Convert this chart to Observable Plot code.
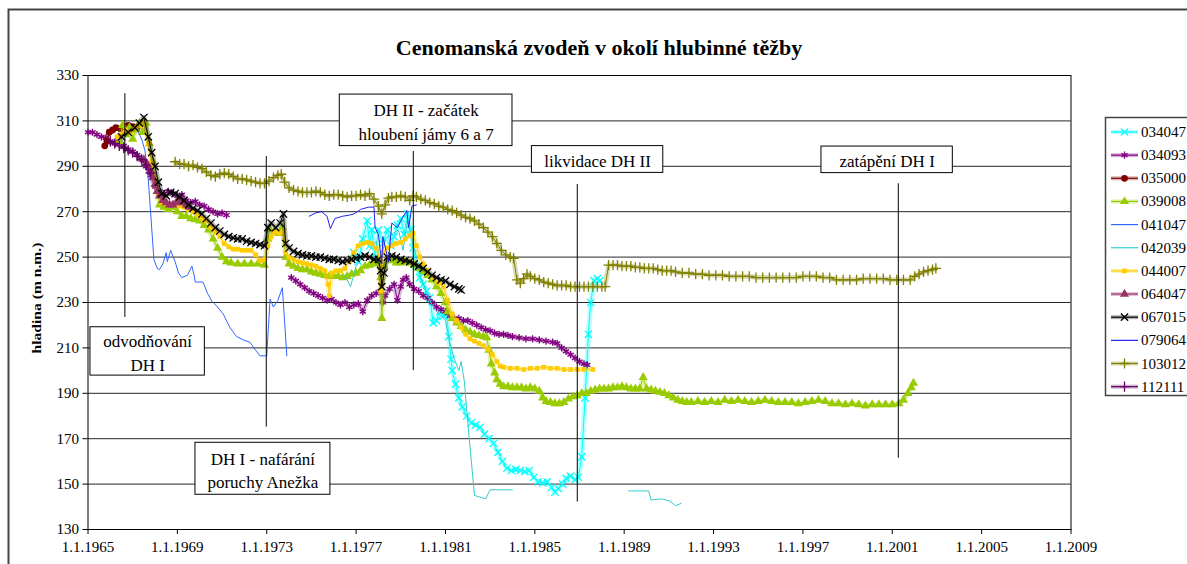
<!DOCTYPE html>
<html><head><meta charset="utf-8">
<script src="https://cdn.jsdelivr.net/npm/d3@7"></script>
<script src="https://cdn.jsdelivr.net/npm/@observablehq/plot@0.6"></script>
<style>
body{margin:0;background:#fff}
#chart{position:relative;width:1187px;height:564px;overflow:hidden;background:#fff}
#chart svg text{font-family:"Liberation Serif","Times New Roman",serif}
</style>
</head><body><div id="chart"></div>
<script>
// ---------- data (year, level in m n.m.) ----------
const s034047 = [[1976.9,252],[1977.1,248],[1977.3,258],[1977.5,266],[1977.6,255],[1977.7,262],[1977.85,250],[1978.0,262],[1978.2,256],[1978.4,262],[1978.55,255],[1978.7,259],[1978.85,264],[1979.0,267],[1979.15,260],[1979.3,269],[1979.45,262],[1979.55,254],[1979.7,246],[1979.85,241],[1980.0,238],[1980.15,235],[1980.3,232],[1980.45,221],[1980.6,222],[1980.75,226],[1980.9,224],[1981.05,225],[1981.15,215],[1981.25,205],[1981.3,200],[1981.45,194],[1981.6,188],[1981.75,184],[1981.95,180],[1982.15,177],[1982.35,176],[1982.55,175],[1982.75,172],[1982.95,170],[1983.15,168],[1983.35,164],[1983.55,160],[1983.75,157],[1983.95,156],[1984.15,156.5],[1984.35,156],[1984.55,155.5],[1984.75,156],[1984.95,153],[1985.15,151],[1985.35,150.5],[1985.55,151],[1985.75,148.5],[1985.9,146.5],[1986.05,148],[1986.25,150],[1986.4,152.5],[1986.6,153.5],[1986.8,152],[1986.95,153],[1987.1,162],[1987.25,188],[1987.4,216],[1987.5,230],[1987.65,239.5],[1987.8,240.5],[1987.9,239.5]];
const s034093 = [[1965.0,305],[1965.2,305],[1965.4,304],[1965.6,303],[1965.8,302.5],[1966.0,301],[1966.2,300],[1966.4,302],[1966.6,299],[1966.8,297.5],[1967.0,296.5],[1967.2,295],[1967.4,293],[1967.6,290],[1967.8,286],[1968.0,281],[1968.2,279],[1968.4,278],[1968.6,279],[1968.8,278],[1969.0,277],[1969.2,277.5],[1969.4,275],[1969.6,274],[1969.8,274.5],[1970.0,273],[1970.2,272.5],[1970.4,271],[1970.6,270],[1970.8,269],[1971.0,269.5],[1971.2,268.5],[1972.6,null],[1974.1,241],[1974.3,239.5],[1974.5,238],[1974.7,236.5],[1974.9,235],[1975.1,234],[1975.3,233],[1975.5,232],[1975.7,231],[1975.9,231.5],[1976.1,230],[1976.3,229],[1976.5,230],[1976.7,228],[1976.9,229],[1977.1,229.5],[1977.3,226],[1977.5,231],[1977.7,233],[1977.9,234],[1978.1,235],[1978.2,230],[1978.3,233],[1978.5,236],[1978.7,238],[1978.85,231],[1979.0,237],[1979.1,240],[1979.25,241],[1979.4,238],[1979.6,236],[1979.8,235],[1980.0,233],[1980.2,232],[1980.4,230],[1980.6,228],[1980.8,227],[1981.0,226],[1981.2,224],[1981.4,223],[1981.6,223],[1981.8,222],[1982.0,222],[1982.2,221],[1982.4,220],[1982.6,219],[1982.8,218],[1983.0,217.5],[1983.2,216.5],[1983.4,216],[1983.6,216],[1983.8,215.5],[1984.0,215],[1984.3,214.5],[1984.6,214],[1984.9,214],[1985.2,213.5],[1985.5,213],[1985.8,212.5],[1986.0,212],[1986.2,210],[1986.4,208.5],[1986.6,207],[1986.8,205.5],[1987.0,204],[1987.2,203],[1987.35,202.5]];
const s035000 = [[1965.75,299],[1965.85,301],[1965.95,305],[1966.1,306],[1966.25,307],[1966.45,306.5],[1966.6,307.5],[1966.8,308],[1967.0,307.5],[1967.2,307]];
const s039008 = [[1966.4,301],[1966.55,308],[1966.7,304],[1966.85,307],[1967.0,302],[1967.15,306],[1967.3,309],[1967.45,305],[1967.6,309],[1967.75,300],[1967.9,292],[1968.0,285],[1968.1,279],[1968.2,273],[1968.4,272],[1968.6,271],[1968.8,272],[1969.0,270],[1969.2,268],[1969.4,268],[1969.6,267],[1969.8,266.5],[1970.0,266],[1970.2,264],[1970.4,262],[1970.6,258],[1970.8,254],[1971.0,250],[1971.2,248],[1971.4,247.5],[1971.7,247],[1972.0,247],[1972.3,247],[1972.6,247],[1972.9,246.5],[1973.05,258],[1973.15,262],[1973.35,261],[1973.55,260.5],[1973.7,263],[1973.85,250],[1974.0,247],[1974.2,246],[1974.4,245],[1974.6,244.5],[1974.8,244.5],[1975.0,243.5],[1975.2,243],[1975.4,242.5],[1975.6,242],[1975.8,241.5],[1976.0,241.5],[1976.2,241.5],[1976.4,241],[1976.6,241.5],[1976.8,242.5],[1977.0,243],[1977.2,244],[1977.4,246],[1977.6,246.5],[1977.8,247],[1978.0,248],[1978.1,241],[1978.15,223],[1978.25,246],[1978.4,249],[1978.6,248.5],[1978.8,247.5],[1979.0,247.5],[1979.2,248],[1979.4,247.5],[1979.6,246.5],[1979.8,245],[1980.0,243.5],[1980.2,242],[1980.4,240],[1980.6,237],[1980.8,234],[1981.0,230],[1981.1,226],[1981.3,223],[1981.5,221],[1981.7,219.5],[1981.9,218],[1982.1,217],[1982.3,216],[1982.5,215.5],[1982.7,215],[1982.85,214.5],[1982.95,209],[1983.05,203],[1983.2,199],[1983.3,196],[1983.45,194],[1983.6,193],[1983.8,193],[1984.0,192.5],[1984.2,192.5],[1984.4,192.5],[1984.6,192],[1984.8,192.5],[1985.0,192],[1985.2,191],[1985.35,188],[1985.5,186.5],[1985.7,186],[1985.9,185.5],[1986.1,185.5],[1986.3,186],[1986.5,187.5],[1986.7,188.5],[1986.9,189],[1987.1,190],[1987.3,190],[1987.5,191],[1987.7,191.5],[1987.9,192],[1988.1,192],[1988.3,192],[1988.5,192.5],[1988.7,192.5],[1988.9,193],[1989.1,192.5],[1989.3,192],[1989.5,192],[1989.7,192],[1989.85,197],[1990.0,192],[1990.2,191.5],[1990.4,191],[1990.6,190.5],[1990.8,190],[1991.0,189],[1991.2,188],[1991.4,187],[1991.6,186.5],[1991.8,186],[1992.0,186],[1992.3,186.5],[1992.6,186],[1992.9,186.5],[1993.2,186],[1993.5,187],[1993.8,186.5],[1994.1,187],[1994.4,186.5],[1994.7,186],[1995.0,186.5],[1995.3,187],[1995.6,186.5],[1995.9,186],[1996.2,186],[1996.5,186],[1996.8,185.5],[1997.1,186],[1997.4,186.5],[1997.7,187],[1998.0,186.5],[1998.3,185.5],[1998.6,185.5],[1998.9,185],[1999.2,185.5],[1999.5,185],[1999.8,184.5],[2000.1,185],[2000.4,185],[2000.7,185],[2001.0,185],[2001.3,185.5],[2001.5,187],[2001.7,190],[2001.85,192.5],[2001.95,194.5]];
const s041047 = [[1967.2,306],[1967.4,302],[1967.55,297],[1967.7,284],[1967.8,270],[1967.95,249],[1968.1,245],[1968.2,244.5],[1968.35,247],[1968.5,252],[1968.55,248],[1968.7,253],[1968.9,248],[1969.05,243],[1969.2,241],[1969.45,242],[1969.65,246],[1969.75,242],[1969.8,239],[1970.15,239],[1970.35,234],[1970.55,230.5],[1970.8,228],[1971.05,225],[1971.35,219],[1971.65,215],[1971.95,213.5],[1972.25,212.5],[1972.5,209],[1972.7,206.5],[1973.0,206.5],[1973.15,231.5],[1973.3,228],[1973.5,231],[1973.7,236.5],[1973.9,206.5]];
const s042039 = [[1976.5,242],[1976.75,237],[1977.0,246],[1977.3,250],[1977.6,253],[1977.9,257],[1978.1,247],[1978.3,258],[1978.6,260],[1978.9,262],[1979.1,253],[1979.3,266],[1979.5,258],[1979.7,250],[1979.9,241],[1980.2,233],[1980.5,227],[1980.8,224],[1981.0,222],[1981.2,212],[1981.4,205],[1981.6,200],[1981.7,204],[1981.85,195],[1982.0,177],[1982.3,145],[1982.8,143.5],[1983.0,147.5],[1984.0,147.5],[1986.0,null],[1989.2,147],[1990.1,147],[1990.2,143],[1990.7,143.5],[1991.05,142.5],[1991.3,140.5],[1991.55,141.5]];
const s044007 = [[1966.3,303],[1966.5,304],[1966.7,306],[1966.9,305],[1967.1,307],[1967.3,308],[1967.5,309.5],[1967.7,300],[1967.85,292],[1968.0,284],[1968.15,278],[1968.3,274],[1968.5,273.5],[1968.7,273],[1968.9,273],[1969.1,272.5],[1969.3,272],[1969.5,271],[1969.7,270],[1969.9,268.5],[1970.1,267],[1970.3,266],[1970.5,263],[1970.7,261],[1970.9,259],[1971.1,256],[1971.3,254.5],[1971.5,253.5],[1971.7,253.5],[1971.9,253],[1972.1,253],[1972.3,253],[1972.5,251],[1972.7,248.5],[1972.9,249],[1973.05,255],[1973.2,259],[1973.35,261],[1973.55,260.5],[1973.75,261.5],[1973.85,252],[1974.0,250],[1974.2,249],[1974.4,248],[1974.6,247.5],[1974.8,247],[1975.0,246.5],[1975.2,246],[1975.4,245],[1975.6,244],[1975.75,238],[1975.8,233],[1975.9,243],[1976.1,244],[1976.3,244],[1976.5,245],[1976.7,248],[1976.9,252],[1977.1,255],[1977.3,256],[1977.5,256.5],[1977.7,256],[1977.9,254],[1978.05,250],[1978.1,235],[1978.2,252],[1978.4,254],[1978.6,255],[1978.8,256],[1979.0,256.5],[1979.2,258],[1979.4,259.5],[1979.55,260.5],[1979.7,255],[1979.85,250],[1980.0,247],[1980.2,244],[1980.45,241],[1980.7,238.5],[1980.9,237],[1981.1,231],[1981.3,225],[1981.5,222],[1981.7,219],[1981.9,216],[1982.1,214],[1982.3,213],[1982.5,212],[1982.7,211],[1982.9,209.5],[1983.1,207],[1983.3,204],[1983.45,202],[1983.6,201.5],[1983.9,201],[1984.2,201],[1984.5,200.5],[1984.8,201],[1985.1,201],[1985.4,201.5],[1985.7,201],[1986.0,201],[1986.3,200.5],[1986.6,200.5],[1986.9,200.5],[1987.2,200.5],[1987.6,200.5]];
const s064047 = [[1967.5,293],[1967.65,291],[1967.8,288],[1967.9,285],[1968.0,282],[1968.1,279],[1968.2,277],[1968.35,275],[1968.5,274],[1968.65,273],[1968.8,273],[1968.95,274],[1969.1,274.5],[1969.25,274],[1969.4,273],[1969.55,272]];
const s067015 = [[1966.5,303],[1966.8,305],[1967.1,307],[1967.3,309],[1967.5,311.5],[1967.7,303],[1967.85,296],[1968.0,290],[1968.15,283],[1968.3,278],[1968.5,277],[1968.7,278.5],[1968.9,278],[1969.1,276.5],[1969.3,275],[1969.5,273],[1969.7,271.5],[1969.9,270.5],[1970.1,269],[1970.3,267],[1970.5,265],[1970.7,263],[1970.9,261.5],[1971.1,260],[1971.3,259],[1971.5,258.5],[1971.7,258],[1971.9,258],[1972.1,257],[1972.3,256.5],[1972.5,256],[1972.7,255.5],[1972.9,255],[1973.05,263],[1973.2,265],[1973.4,263],[1973.6,265],[1973.75,269],[1973.85,256],[1974.0,254],[1974.2,252.5],[1974.4,251.5],[1974.6,251],[1974.8,250.5],[1975.0,250.5],[1975.2,250],[1975.4,250],[1975.6,249.5],[1975.8,249],[1976.0,249],[1976.2,248.5],[1976.4,248],[1976.6,248.5],[1976.8,249],[1977.0,249.5],[1977.2,250],[1977.4,250.5],[1977.6,250],[1977.8,249],[1978.0,249],[1978.1,244],[1978.15,237],[1978.25,243],[1978.4,250],[1978.6,250.5],[1978.8,250],[1979.0,249],[1979.2,248.5],[1979.4,248],[1979.6,247],[1979.8,246],[1980.0,245],[1980.2,243.5],[1980.4,242],[1980.6,241],[1980.8,240],[1981.0,239.5],[1981.2,238],[1981.4,237],[1981.6,236],[1981.7,235.5]];
const s079064 = [[1974.9,268],[1975.2,269.5],[1975.45,270],[1975.7,268],[1975.85,262.5],[1976.05,267],[1976.4,268],[1976.7,268.5],[1976.9,269],[1977.2,271],[1977.55,272],[1977.8,272],[1977.85,263],[1978.0,260],[1978.15,247],[1978.2,259],[1978.45,248],[1978.6,265],[1978.85,263],[1978.97,265.5],[1979.27,270.5],[1979.35,263],[1979.5,272.5],[1979.7,273]];
const s103012 = [[1968.9,292],[1969.1,291],[1969.3,291],[1969.5,290],[1969.7,290.5],[1969.9,289.5],[1970.1,289],[1970.3,287.5],[1970.5,286],[1970.7,285.5],[1970.9,286.5],[1971.1,287],[1971.3,286.5],[1971.5,285.5],[1971.7,284.5],[1971.9,284.5],[1972.1,284],[1972.3,283.5],[1972.5,283],[1972.7,282.5],[1972.9,282.5],[1973.1,283.5],[1973.3,285],[1973.5,286],[1973.65,286.5],[1973.8,283],[1974.0,280.5],[1974.2,279.5],[1974.4,279],[1974.6,278.5],[1974.8,278.5],[1975.0,278.5],[1975.2,279],[1975.4,278.5],[1975.6,277.5],[1975.8,277],[1976.0,277.5],[1976.2,277.5],[1976.4,277],[1976.6,276.5],[1976.8,277],[1977.0,277],[1977.2,277.5],[1977.4,277],[1977.6,278],[1977.8,275.5],[1978.0,272.5],[1978.15,269],[1978.3,273],[1978.45,276],[1978.6,276.5],[1978.8,276.5],[1979.0,277],[1979.2,276.5],[1979.4,275],[1979.55,277],[1979.7,276.5],[1979.9,275.5],[1980.1,275],[1980.3,274],[1980.5,273.5],[1980.7,272.5],[1980.9,272],[1981.1,271],[1981.3,270.5],[1981.5,269.5],[1981.7,268.5],[1981.9,267.5],[1982.1,267],[1982.3,266],[1982.5,264.5],[1982.7,263],[1982.9,261],[1983.1,259],[1983.3,256],[1983.5,253],[1983.7,251],[1983.9,250],[1984.05,249.5],[1984.2,240],[1984.35,238.5],[1984.5,240.5],[1984.65,242.5],[1984.8,241.5],[1985.0,240.5],[1985.2,240],[1985.4,239],[1985.6,238.5],[1985.8,238],[1986.0,237.5],[1986.2,237.5],[1986.4,237.5],[1986.6,237],[1986.8,237],[1987.0,237],[1987.2,237],[1987.4,237],[1987.6,237],[1987.8,237],[1988.0,237],[1988.15,237],[1988.3,246.5],[1988.5,246.5],[1988.7,246.5],[1988.9,246],[1989.1,246],[1989.3,246],[1989.5,245.5],[1989.7,245.5],[1989.9,245],[1990.1,245],[1990.3,245],[1990.5,244.5],[1990.7,244],[1990.9,244],[1991.1,244],[1991.3,243.5],[1991.6,243],[1991.9,243],[1992.2,242.5],[1992.5,242.5],[1992.8,242],[1993.1,242],[1993.4,242],[1993.7,241.5],[1994.0,241.5],[1994.3,241.5],[1994.6,241.5],[1994.9,241],[1995.2,241],[1995.5,241],[1995.8,241],[1996.1,241],[1996.4,241],[1996.7,241],[1997.0,241.5],[1997.3,241.5],[1997.6,241.5],[1997.9,241],[1998.2,241],[1998.5,240],[1998.8,240],[1999.1,240],[1999.4,240],[1999.7,240.5],[2000.0,240.5],[2000.3,240.5],[2000.6,240.5],[2000.9,240],[2001.2,240],[2001.5,240],[2001.8,240],[2002.0,241.5],[2002.2,242.5],[2002.4,243.5],[2002.6,244],[2002.8,244.5],[2002.95,245]];
const s112111 = [[1966.0,301],[1966.2,300],[1966.4,299],[1966.6,298],[1966.8,297],[1967.0,296],[1967.2,294.5],[1967.4,293],[1967.6,290.5],[1967.8,287]];

const seriesIds = ["034047","034093","035000","039008","041047","042039","044007","064047","067015","079064","103012","112111"];
const yTicks = [130,150,170,190,210,230,250,270,290,310,330];
const xTicks = [1965,1969,1973,1977,1981,1985,1989,1993,1997,2001,2005,2009];

// events: date of event, vertical rule extent (m n.m.), label
const events = [
  {label:"odvodňování\nDH I", date:1966.65, from:322, to:223.4},
  {label:"DH I - nafárání\nporuchy Anežka", date:1972.98, from:294.3, to:175.1},
  {label:"DH II - začátek\nhloubení jámy 6 a 7", date:1979.56, from:296.5, to:200},
  {label:"likvidace DH II", date:1986.9, from:282, to:142.1},
  {label:"zatápění DH I", date:2001.27, from:282.3, to:161.4}
];

// ---------- layout / style ----------
const boxLayout = [
  {x1:1965.11,x2:1970.23,y1:197.8,y2:219.1},
  {x1:1969.81,x2:1975.85,y1:145.3,y2:168.2},
  {x1:1976.27,x2:1984.0,y1:298.9,y2:321.6},
  {x1:1984.87,x2:1990.75,y1:287.1,y2:298.9},
  {x1:1997.83,x2:2003.71,y1:287,y2:298.7}
];
const style = {
  "034047":{color:"#00FFFF", symbol:"times", fill:false},
  "034093":{color:"#800080", symbol:"asterisk", fill:false},
  "035000":{color:"#800000", symbol:"circle", fill:true},
  "039008":{color:"#99CC00", symbol:"triangle", fill:true},
  "041047":{color:"#3366FF", symbol:null},
  "042039":{color:"#33CCCC", symbol:null},
  "044007":{color:"#FFCC00", symbol:"square", fill:true},
  "064047":{color:"#993366", symbol:"triangle", fill:true},
  "067015":{color:"#000000", symbol:"times", fill:false},
  "079064":{color:"#2222EE", symbol:null},
  "103012":{color:"#808000", symbol:"plus", fill:false},
  "112111":{color:"#660066", symbol:"plus", fill:false}
};
const seriesData = {"034047":s034047,"034093":s034093,"035000":s035000,"039008":s039008,"041047":s041047,"042039":s042039,"044007":s044007,"064047":s064047,"067015":s067015,"079064":s079064,"103012":s103012,"112111":s112111};

const FONT = "Liberation Serif, Times New Roman, serif";
const W = 1187, H = 564;
const mL = 87.5, mR = 116.5, mT = 75, mB = 35;

const seriesMarks = seriesIds.flatMap(id => {
  const d = seriesData[id], s = style[id];
  const ms = [];
  if (s.symbol) ms.push(Plot.line(d, {x: p => p[0], y: p => p[1], stroke: s.color, strokeWidth: 5, strokeOpacity: 0.28}));
  ms.push(Plot.line(d, {x: p => p[0], y: p => p[1], stroke: s.color, strokeWidth: 1}));
  if (s.symbol) {
    const opt = {x: p => p[0], y: p => p[1], symbol: s.symbol, r: s.symbol === "square" ? 2.6 : 3.4};
    if (s.fill) { opt.fill = s.color; opt.stroke = "none"; } else { opt.stroke = s.color; opt.strokeWidth = 1.3; opt.fill = "none"; }
    ms.push(Plot.dot(d.filter(p => p[1] != null), opt));
  }
  return ms;
});

const ev = events.map((e, i) => ({...e, ...boxLayout[i], cx: (boxLayout[i].x1 + boxLayout[i].x2) / 2, cy: (boxLayout[i].y1 + boxLayout[i].y2) / 2}));

const chart = Plot.plot({
  width: W, height: H,
  marginLeft: mL, marginRight: mR, marginTop: mT, marginBottom: mB,
  x: {domain: [1965, 2009], type: "linear"},
  y: {domain: [130, 330]},
  style: {fontFamily: FONT, fontSize: "15px", color: "black", background: "white", overflow: "visible"},
  marks: [
    Plot.gridY({ticks: yTicks, stroke: "#000", strokeOpacity: 0.85}),
    Plot.frame({stroke: "#000"}),
    Plot.axisY({ticks: yTicks, tickSize: 5, tickPadding: 4, label: null, fontSize: 15, tickFormat: d => String(d)}),
    Plot.axisX({ticks: xTicks, tickSize: 5, tickPadding: 7, label: null, fontSize: 15, tickFormat: d => "1.1." + d}),
    ...seriesMarks,
    Plot.ruleX(ev, {x: "date", y1: "from", y2: "to", stroke: "#000", strokeWidth: 1}),
    Plot.rect(ev, {x1: "x1", x2: "x2", y1: "y1", y2: "y2", fill: "white", stroke: "#000", strokeWidth: 1}),
    Plot.text(ev, {x: "cx", y: "cy", text: "label", fontSize: 17, lineHeight: 1.38, fill: "#000"})
  ]
});

document.getElementById("chart").appendChild(chart);
const svg = d3.select(chart);

// outer chart frame
svg.insert("rect", ":first-child").attr("x", 8.5).attr("y", 9.5).attr("width", 1300).attr("height", 700)
  .attr("fill", "none").attr("stroke", "#444").attr("stroke-width", 2);

// title
svg.append("text").attr("x", 599).attr("y", 55).attr("text-anchor", "middle")
  .attr("font-weight", "bold").attr("font-size", 22)
  .text("Cenomanská zvodeň v okolí hlubinné těžby");

// y label
svg.append("text").attr("transform", "translate(41,298) rotate(-90) scale(1.3,1)").attr("text-anchor", "middle")
  .attr("font-weight", "bold").attr("font-size", 12)
  .text("hladina (m n.m.)");

// legend
const lg = svg.append("g");
lg.append("rect").attr("x", 1105.5).attr("y", 117.5).attr("width", 120).attr("height", 278)
  .attr("fill", "white").attr("stroke", "#444").attr("stroke-width", 1.5);
const symMap = {times: d3.symbolTimes, asterisk: d3.symbolAsterisk, circle: d3.symbolCircle, triangle: d3.symbolTriangle, square: d3.symbolSquare, plus: d3.symbolPlus};
seriesIds.forEach((id, i) => {
  const s = style[id];
  const y = 132 + i * 23.15;
  if (s.symbol) lg.append("line").attr("x1", 1111).attr("x2", 1138).attr("y1", y).attr("y2", y).attr("stroke", s.color).attr("stroke-width", 4).attr("stroke-opacity", 0.3);
  lg.append("line").attr("x1", 1111).attr("x2", 1138).attr("y1", y).attr("y2", y).attr("stroke", s.color).attr("stroke-width", 1.2);
  if (s.symbol) {
    const size = s.symbol === "square" ? 22 : 36;
    const p = lg.append("path").attr("d", d3.symbol(symMap[s.symbol], size)()).attr("transform", `translate(1124.5,${y})`);
    if (s.fill) p.attr("fill", s.color); else p.attr("fill", "none").attr("stroke", s.color).attr("stroke-width", 1.3);
  }
  lg.append("text").attr("x", 1141).attr("y", y + 5).attr("text-anchor", "start").attr("font-size", 15).text(id);
});
</script>
</body></html>
